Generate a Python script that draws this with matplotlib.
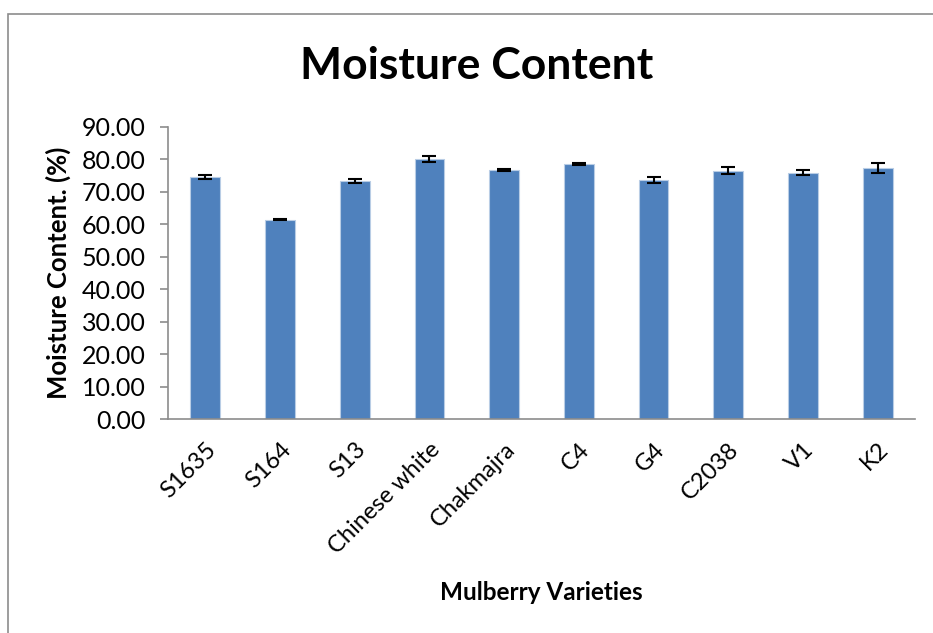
import matplotlib.pyplot as plt
import matplotlib.patches as patches

# Data
varieties = ['S1635', 'S164', 'S13', 'Chinese white', 'Chakmajra',
             'C4', 'G4', 'C2038', 'V1', 'K2']
moisture = [74.5, 61.4, 73.2, 80.0, 76.7, 78.5, 73.6, 76.5, 75.8, 77.4]
errors = [0.5, 0.2, 0.6, 1.0, 0.3, 0.2, 0.8, 1.0, 0.8, 1.5]
yticks = [0, 10, 20, 30, 40, 50, 60, 70, 80, 90]

plt.rcParams['font.family'] = ['Lato', 'DejaVu Sans']

fig = plt.figure(figsize=(9.33, 6.33), dpi=100)
ax = fig.add_axes([168 / 933, 1 - 419.3 / 633, 747 / 933, 292.6 / 633])

# Chart area border (runs past the right and bottom of the image)
frame = patches.Rectangle((8 / 933, -0.2), 1.2, 1.2 - 14 / 633,
                          transform=fig.transFigure, fill=False,
                          edgecolor='#8c8c8c', linewidth=1.2)
fig.patches.append(frame)

x = range(len(varieties))
ax.bar(x, moisture, width=0.4, color='#4f81bd', edgecolor='#b9cde5',
       linewidth=0.8, yerr=errors, capsize=5,
       error_kw=dict(ecolor='black', elinewidth=1.5, capthick=1.5))

ax.set_xlim(-0.5, len(varieties) - 0.5)
ax.set_ylim(0, 90)
ax.set_yticks(yticks)
ax.set_yticklabels([f'{v:.2f}' for v in yticks], fontsize=18)
ax.set_xticks(list(x))
ax.set_xticklabels(varieties, rotation=45, ha='right', va='top',
                   rotation_mode='anchor', fontsize=17)
ax.tick_params(axis='x', length=0, pad=14)
ax.tick_params(axis='y', length=6, color='#8c8c8c', width=1.2, pad=10)

for side in ['top', 'right']:
    ax.spines[side].set_visible(False)
for side in ['left', 'bottom']:
    ax.spines[side].set_color('#8c8c8c')
    ax.spines[side].set_linewidth(1.2)

ax.set_ylabel('Moisture Content. (%)', fontsize=18.5, fontweight='bold',
              labelpad=8)
fig.text(541 / 933, 1 - 592 / 633, 'Mulberry Varieties', ha='center',
         va='center', fontsize=17.5, fontweight='bold')
fig.text(477 / 933, 1 - 66 / 633, 'Moisture Content', ha='center',
         va='center', fontsize=32, fontweight='bold')

fig.savefig('out.png', dpi=100)
